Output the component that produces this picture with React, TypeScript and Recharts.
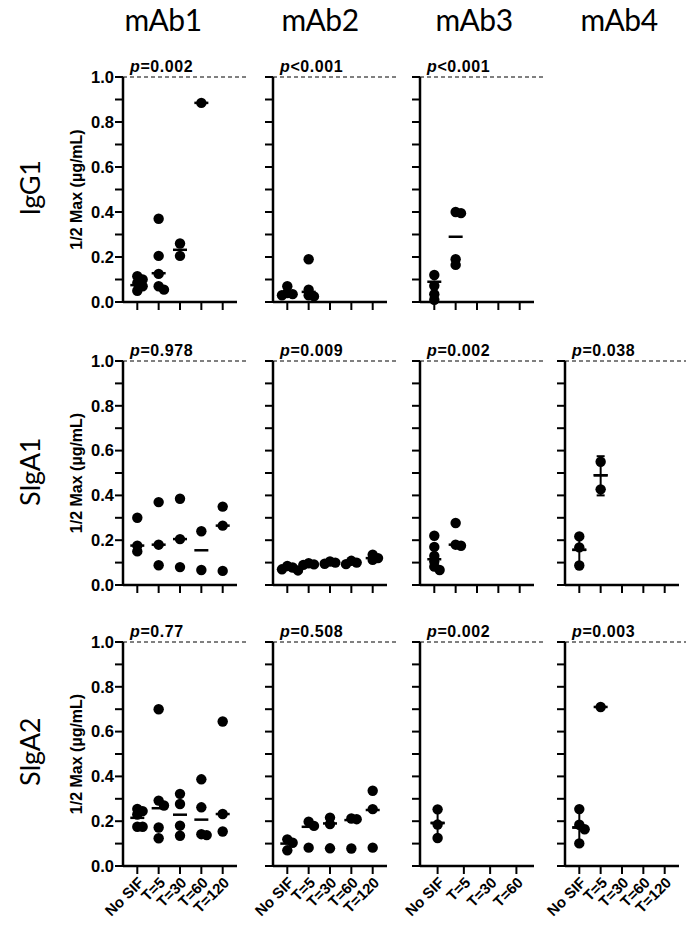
import React from "react";
import { ScatterChart, Scatter, XAxis, YAxis, ReferenceLine, ErrorBar } from "recharts";

// ---------- labels ----------
const antibodies = ["mAb1", "mAb2", "mAb3", "mAb4"];
const isotypes = ["IgG1", "SIgA1", "SIgA2"];
const groupsFive = ["No SIF", "T=5", "T=30", "T=60", "T=120"];
const groupsFour = ["No SIF", "T=5", "T=30", "T=60"];
const yTicks = [0, 0.1, 0.2, 0.3, 0.4, 0.5, 0.6, 0.7, 0.8, 0.9, 1.0];
const yAxisTitle = "1/2 Max (\u00b5g/mL)";
const thresholdValue = 1.0;

// ---------- p values ----------
const pIgG1 = ["=0.002", "<0.001", "<0.001", null];
const pSIgA1 = ["=0.978", "=0.009", "=0.002", "=0.038"];
const pSIgA2 = ["=0.77", "=0.508", "=0.002", "=0.003"];

// ---------- IgG1 ----------
const igg1Mab1 = [[0.115, 0.1, 0.085, 0.07, 0.05], [0.37, 0.205, 0.125, 0.07, 0.055], [0.26, 0.205], [0.885], []];
const igg1Mab1Center = [0.075, 0.128, 0.232, 0.885, null];
const igg1Mab2 = [[0.07, 0.04, 0.035, 0.03], [0.19, 0.055, 0.03, 0.025], [], [], []];
const igg1Mab2Center = [0.042, 0.045, null, null, null];
const igg1Mab3 = [[0.12, 0.072, 0.035, 0.01], [0.4, 0.395, 0.19, 0.165], [], [], []];
const igg1Mab3Center = [0.09, 0.29, null, null, null];

// ---------- SIgA1 ----------
const siga1Mab1 = [[0.3, 0.176, 0.15], [0.37, 0.18, 0.088], [0.385, 0.205, 0.08], [0.24, 0.067], [0.35, 0.265, 0.063]];
const siga1Mab1Center = [0.176, 0.18, 0.205, 0.155, 0.265];
const siga1Mab2 = [[0.085, 0.078, 0.07, 0.065], [0.097, 0.092, 0.09], [0.105, 0.1, 0.095], [0.108, 0.1, 0.093], [0.135, 0.12, 0.112]];
const siga1Mab2Center = [0.075, 0.093, 0.1, 0.1, 0.12];
const siga1Mab3 = [[0.22, 0.17, 0.13, 0.105, 0.082, 0.067], [0.277, 0.18, 0.175], [], [], []];
const siga1Mab3Center = [0.115, 0.18, null, null, null];
const siga1Mab4 = [[0.217, 0.168, 0.087], [0.55, 0.427], [], [], []];
const siga1Mab4Center = [0.157, 0.49, null, null, null];
const siga1Mab4Error = [[0.097, 0.22], [0.4, 0.575], null, null, null];

// ---------- SIgA2 ----------
const siga2Mab1 = [[0.255, 0.245, 0.23, 0.175, 0.175], [0.7, 0.292, 0.27, 0.172, 0.124], [0.322, 0.277, 0.18, 0.135], [0.387, 0.262, 0.142, 0.138], [0.645, 0.232, 0.154]];
const siga2Mab1Center = [0.215, 0.258, 0.229, 0.207, 0.232];
const siga2Mab2 = [[0.119, 0.104, 0.07], [0.198, 0.179, 0.082], [0.216, 0.187, 0.079], [0.212, 0.209, 0.078], [0.336, 0.254, 0.082]];
const siga2Mab2Center = [0.1, 0.175, 0.19, 0.205, 0.25];
const siga2Mab3 = [[0.253, 0.185, 0.125], [], [], []];
const siga2Mab3Center = [0.192, null, null, null];
const siga2Mab3Error = [[0.13, 0.255], null, null, null];
const siga2Mab4 = [[0.254, 0.184, 0.164, 0.101], [0.71], [], [], []];
const siga2Mab4Center = [0.172, 0.71, null, null, null];
const siga2Mab4Error = [[0.1, 0.255], null, null, null, null];

// ---------- layout ----------
const colAxisX = [123, 273, 420, 565];
const rowTops = [77, 361, 642];
const rowPlotH = [225, 224, 224];
const PLOT_W = 114;
const YW = 60;
const MT = 30;
const MR = 22;
const FONT = "'Liberation Sans', Arial, sans-serif";
const TITLE_FONT = "Lato, 'Open Sans', sans-serif";
const titleX = [163, 320, 474, 619];
const rowLabelY = [188, 472, 752];

const panels = [
  { row: 0, col: 0, groups: groupsFive, values: igg1Mab1, centers: igg1Mab1Center, errors: null, p: pIgG1[0] },
  { row: 0, col: 1, groups: groupsFive, values: igg1Mab2, centers: igg1Mab2Center, errors: null, p: pIgG1[1] },
  { row: 0, col: 2, groups: groupsFive, values: igg1Mab3, centers: igg1Mab3Center, errors: null, p: pIgG1[2] },
  { row: 1, col: 0, groups: groupsFive, values: siga1Mab1, centers: siga1Mab1Center, errors: null, p: pSIgA1[0] },
  { row: 1, col: 1, groups: groupsFive, values: siga1Mab2, centers: siga1Mab2Center, errors: null, p: pSIgA1[1] },
  { row: 1, col: 2, groups: groupsFive, values: siga1Mab3, centers: siga1Mab3Center, errors: null, p: pSIgA1[2] },
  { row: 1, col: 3, groups: groupsFive, values: siga1Mab4, centers: siga1Mab4Center, errors: siga1Mab4Error, p: pSIgA1[3] },
  { row: 2, col: 0, groups: groupsFive, values: siga2Mab1, centers: siga2Mab1Center, errors: null, p: pSIgA2[0] },
  { row: 2, col: 1, groups: groupsFive, values: siga2Mab2, centers: siga2Mab2Center, errors: null, p: pSIgA2[1] },
  { row: 2, col: 2, groups: groupsFour, values: siga2Mab3, centers: siga2Mab3Center, errors: siga2Mab3Error, p: pSIgA2[2] },
  { row: 2, col: 3, groups: groupsFive, values: siga2Mab4, centers: siga2Mab4Center, errors: siga2Mab4Error, p: pSIgA2[3] },
];

// simple beeswarm: small horizontal offsets so dots do not fully sit on top of each other
function swarm(values: number[][], n: number, plotH: number) {
  const pxPerCat = PLOT_W / (n - 1 + 1.34);
  const step = 0.25;
  const offsets = [0, step, -step, 2 * step, -2 * step];
  const out: { x: number; y: number }[] = [];
  values.forEach((vals, gi) => {
    const placed: { v: number; o: number }[] = [];
    vals.forEach((v) => {
      let chosen = 0;
      for (const o of offsets) {
        const ok = placed.every((p) => Math.hypot((o - p.o) * pxPerCat, (v - p.v) * plotH) >= 5);
        if (ok) {
          chosen = o;
          break;
        }
      }
      placed.push({ v, o: chosen });
      out.push({ x: gi + chosen, y: v });
    });
  });
  return out;
}

const Dot = (props: any) => <circle cx={props.cx} cy={props.cy} r={5.2} fill="#000" />;
const CenterMark = (props: any) => (
  <line x1={props.cx - 7} x2={props.cx + 7} y1={props.cy} y2={props.cy} stroke="#000" strokeWidth={2.5} />
);

function PLabel(props: any) {
  const vb = props.viewBox || { x: 0, y: 0 };
  return (
    <text x={vb.x + 7} y={vb.y - 5} fontFamily={FONT} fontSize={16} fontWeight="bold" fill="#000" letterSpacing={0.6}>
      <tspan fontStyle="italic">p</tspan>
      <tspan>{props.text}</tspan>
    </text>
  );
}

function Panel({ panel }: { panel: any }) {
  const { row, col, groups, values, centers, errors, p } = panel;
  const n = groups.length;
  const plotH = rowPlotH[row];
  const xh = row === 2 ? 70 : 20;
  const width = YW + PLOT_W + MR;
  const height = MT + plotH + xh;
  const xMin = -0.67;
  const xMax = n - 1 + 0.67;
  const xTicks = groups.map((_: string, i: number) => i);
  const dots = swarm(values, n, plotH);
  const centerData = centers
    .map((c: number | null, i: number) => (c == null ? null : { x: i, y: c }))
    .filter((d: any) => d);
  const errData = errors
    ? errors
        .map((e: number[] | null, i: number) =>
          e == null ? null : { x: i, y: centers[i], err: [centers[i] - e[0], e[1] - centers[i]] }
        )
        .filter((d: any) => d)
    : [];
  const showX = row === 2;
  const showY = col === 0;
  return (
    <div style={{ position: "absolute", left: colAxisX[col] - YW, top: rowTops[row] - MT }}>
      <ScatterChart width={width} height={height} margin={{ top: MT, right: MR, bottom: 0, left: 0 }} style={{ overflow: "visible" }}>
        <XAxis
          type="number"
          dataKey="x"
          domain={[xMin, xMax]}
          ticks={xTicks}
          interval={0}
          height={xh}
          tickSize={8}
          axisLine={{ stroke: "#000", strokeWidth: 2.5 }}
          tickLine={{ stroke: "#000", strokeWidth: 2 }}
          tickFormatter={(v: number) => (showX ? groups[Math.round(v)] : "")}
          tick={{ fill: "#000", fontSize: 15, fontWeight: "bold", fontFamily: FONT, angle: -45, textAnchor: "end" } as any}
        />
        <YAxis
          type="number"
          dataKey="y"
          domain={[0, 1]}
          ticks={yTicks}
          interval={0}
          width={YW}
          tickSize={8}
          tickMargin={1}
          axisLine={{ stroke: "#000", strokeWidth: 2.5 }}
          tickLine={{ stroke: "#000", strokeWidth: 2 }}
          tickFormatter={(v: number) => (showY && Math.round(v * 10) % 2 === 0 ? v.toFixed(1) : "")}
          tick={{ fill: "#000", fontSize: 16.5, fontWeight: "bold", fontFamily: FONT }}
          label={
            showY
              ? {
                  value: yAxisTitle,
                  angle: -90,
                  position: "insideLeft",
                  offset: 13,
                  style: { textAnchor: "middle", fontSize: 16, fontWeight: "bold", fontFamily: FONT, fill: "#000" },
                }
              : undefined
          }
        />
        <ReferenceLine
          segment={[
            { x: xMin, y: thresholdValue },
            { x: xMax + 0.45, y: thresholdValue },
          ]}
          ifOverflow="visible"
          stroke="#000"
          strokeWidth={1}
          strokeDasharray="4 3"
          label={p ? <PLabel text={p} /> : undefined}
        />
        <Scatter data={centerData} shape={CenterMark} isAnimationActive={false} />
        {errData.length > 0 && (
          <Scatter data={errData} shape={CenterMark} isAnimationActive={false}>
            <ErrorBar dataKey="err" direction="y" width={4} stroke="#000" strokeWidth={2} />
          </Scatter>
        )}
        <Scatter data={dots} shape={Dot} isAnimationActive={false} />
      </ScatterChart>
    </div>
  );
}

export default function App() {
  return (
    <div style={{ position: "absolute", left: 0, top: 0, width: 686, height: 927, background: "#fff" }}>
      <svg width={686} height={927} style={{ position: "absolute", left: 0, top: 0 }}>
        {antibodies.map((a, i) => (
          <text key={a} x={titleX[i]} y={31} textAnchor="middle" fontFamily={TITLE_FONT} fontSize={30} letterSpacing={-0.5} fill="#000">
            {a}
          </text>
        ))}
        {isotypes.map((t, i) => (
          <text
            key={t}
            transform={`translate(40,${rowLabelY[i]}) rotate(-90)`}
            textAnchor="middle"
            fontFamily={TITLE_FONT}
            fontSize={27}
            letterSpacing={-0.3}
            fill="#000"
          >
            {t}
          </text>
        ))}
      </svg>
      {panels.map((pn, i) => (
        <Panel key={i} panel={pn} />
      ))}
    </div>
  );
}
